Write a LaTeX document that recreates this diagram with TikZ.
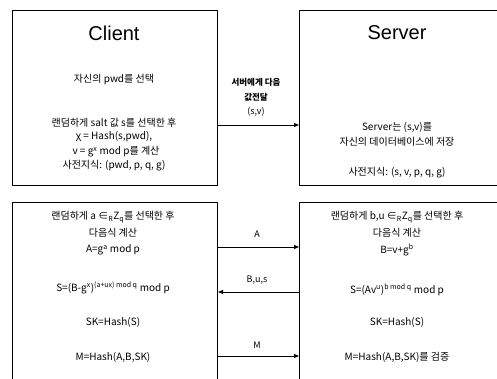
\documentclass[tikz,border=0pt]{standalone}
\usepackage{fontspec}
\setmainfont{Noto Sans CJK KR}
\newfontfamily\latinf{Liberation Sans}
\usetikzlibrary{arrows.meta}
\tikzset{
  box/.style={draw, line width=1pt, inner sep=0pt, anchor=north west},
  txt/.style={font=\fontsize{10}{11}\selectfont, inner sep=0pt, align=center},
  title/.style={font=\latinf\fontsize{20}{22}\selectfont, inner sep=0pt},
  msg/.style={line width=0.8pt, -{Triangle[length=5pt,width=4pt]}},
  lbl/.style={font=\fontsize{9}{10}\selectfont, inner sep=0pt, align=center},
  blbl/.style={lbl, font=\bfseries\fontsize{8.5}{10}\selectfont}
}
\newcommand{\sps}[1]{\textsuperscript{#1}}
\begin{document}
\begin{tikzpicture}[x=1pt,y=-1pt]
\useasboundingbox (0,0) rectangle (497,378);
\clip (0,0) rectangle (497,378);
\fill[white] (0,0) rectangle (497,378);
% boxes
\node[box, minimum width=205pt, minimum height=175pt] (c1) at (12,10) {};
\node[box, minimum width=210pt, minimum height=175pt] (s1) at (299,10) {};
\node[box, minimum width=205pt, minimum height=200pt] (c2) at (12,202) {};
\node[box, minimum width=210pt, minimum height=200pt] (s2) at (299,202) {};
% client top text
\node[title] (ct) at (114,33) {Client};
\node[txt] (c1a) at (114,80) {자신의 pwd를 선택};
\node[txt] (c1b) at (114,123) {랜덤하게 salt 값 s를 선택한 후};
\node[txt] (c1c) at (114,137) {χ = Hash(s,pwd),};
\node[txt] (c1d) at (116,152) {v = g\sps{x} mod p를 계산};
\node[txt] (c1e) at (114,166) {사전지식: (pwd, p, q, g)};
% server top text
\node[title] (st) at (397,33) {Server};
\node[txt] (s1a) at (397,127) {Server는 (s,v)를};
\node[txt] (s1b) at (397,142) {자신의 데이터베이스에 저장};
\node[txt] (s1c) at (397,173) {사전지식: (s, v, p, q, g)};
% top arrow
\coordinate (t1) at (217,125);
\coordinate (t2) at (299,125);
\draw[msg] (c1.east |- t1) -- (s1.west |- t2);
\node[blbl] (tl1) at (256,82) {서버에게 다음};
\node[blbl] (tl2) at (256,97) {값전달};
\node[lbl] (tl3) at (256,112) {(s,v)};
% client lower text
\node[txt] (c2a) at (113,217) {랜덤하게 a ∈\textsubscript{R}Z\textsubscript{q}를 선택한 후};
\node[txt] (c2b) at (113,233) {다음식 계산};
\node[txt] (c2c) at (113,250) {A=g\sps{a} mod p};
\node[txt] (c2d) at (113,288) {S=(B-g\sps{x})\sps{(a+ux) mod q} mod p};
\node[txt] (c2e) at (113,322) {SK=Hash(S)};
\node[txt] (c2f) at (113,357) {M=Hash(A,B,SK)};
% server lower text
\node[txt] (s2a) at (397,217) {랜덤하게 b,u ∈\textsubscript{R}Z\textsubscript{q}를 선택한 후};
\node[txt] (s2b) at (397,233) {다음식 계산};
\node[txt] (s2c) at (397,250) {B=v+g\sps{b}};
\node[txt] (s2d) at (397,290) {S=(Av\sps{u})\sps{b mod q} mod p};
\node[txt] (s2e) at (397,322) {SK=Hash(S)};
\node[txt] (s2f) at (397,357) {M=Hash(A,B,SK)를 검증};
% lower arrows
\coordinate (ya) at (0,247);
\coordinate (yb) at (0,292);
\coordinate (ym) at (0,356);
\draw[msg] (c2.east |- ya) -- (s2.west |- ya);
\draw[msg] (s2.west |- yb) -- (c2.east |- yb);
\draw[msg] (c2.east |- ym) -- (s2.west |- ym);
\node[lbl] (la) at (257,234) {A};
\node[lbl] (lb) at (257,280) {B,u,s};
\node[lbl] (lm) at (257,345) {M};
\end{tikzpicture}
\end{document}
